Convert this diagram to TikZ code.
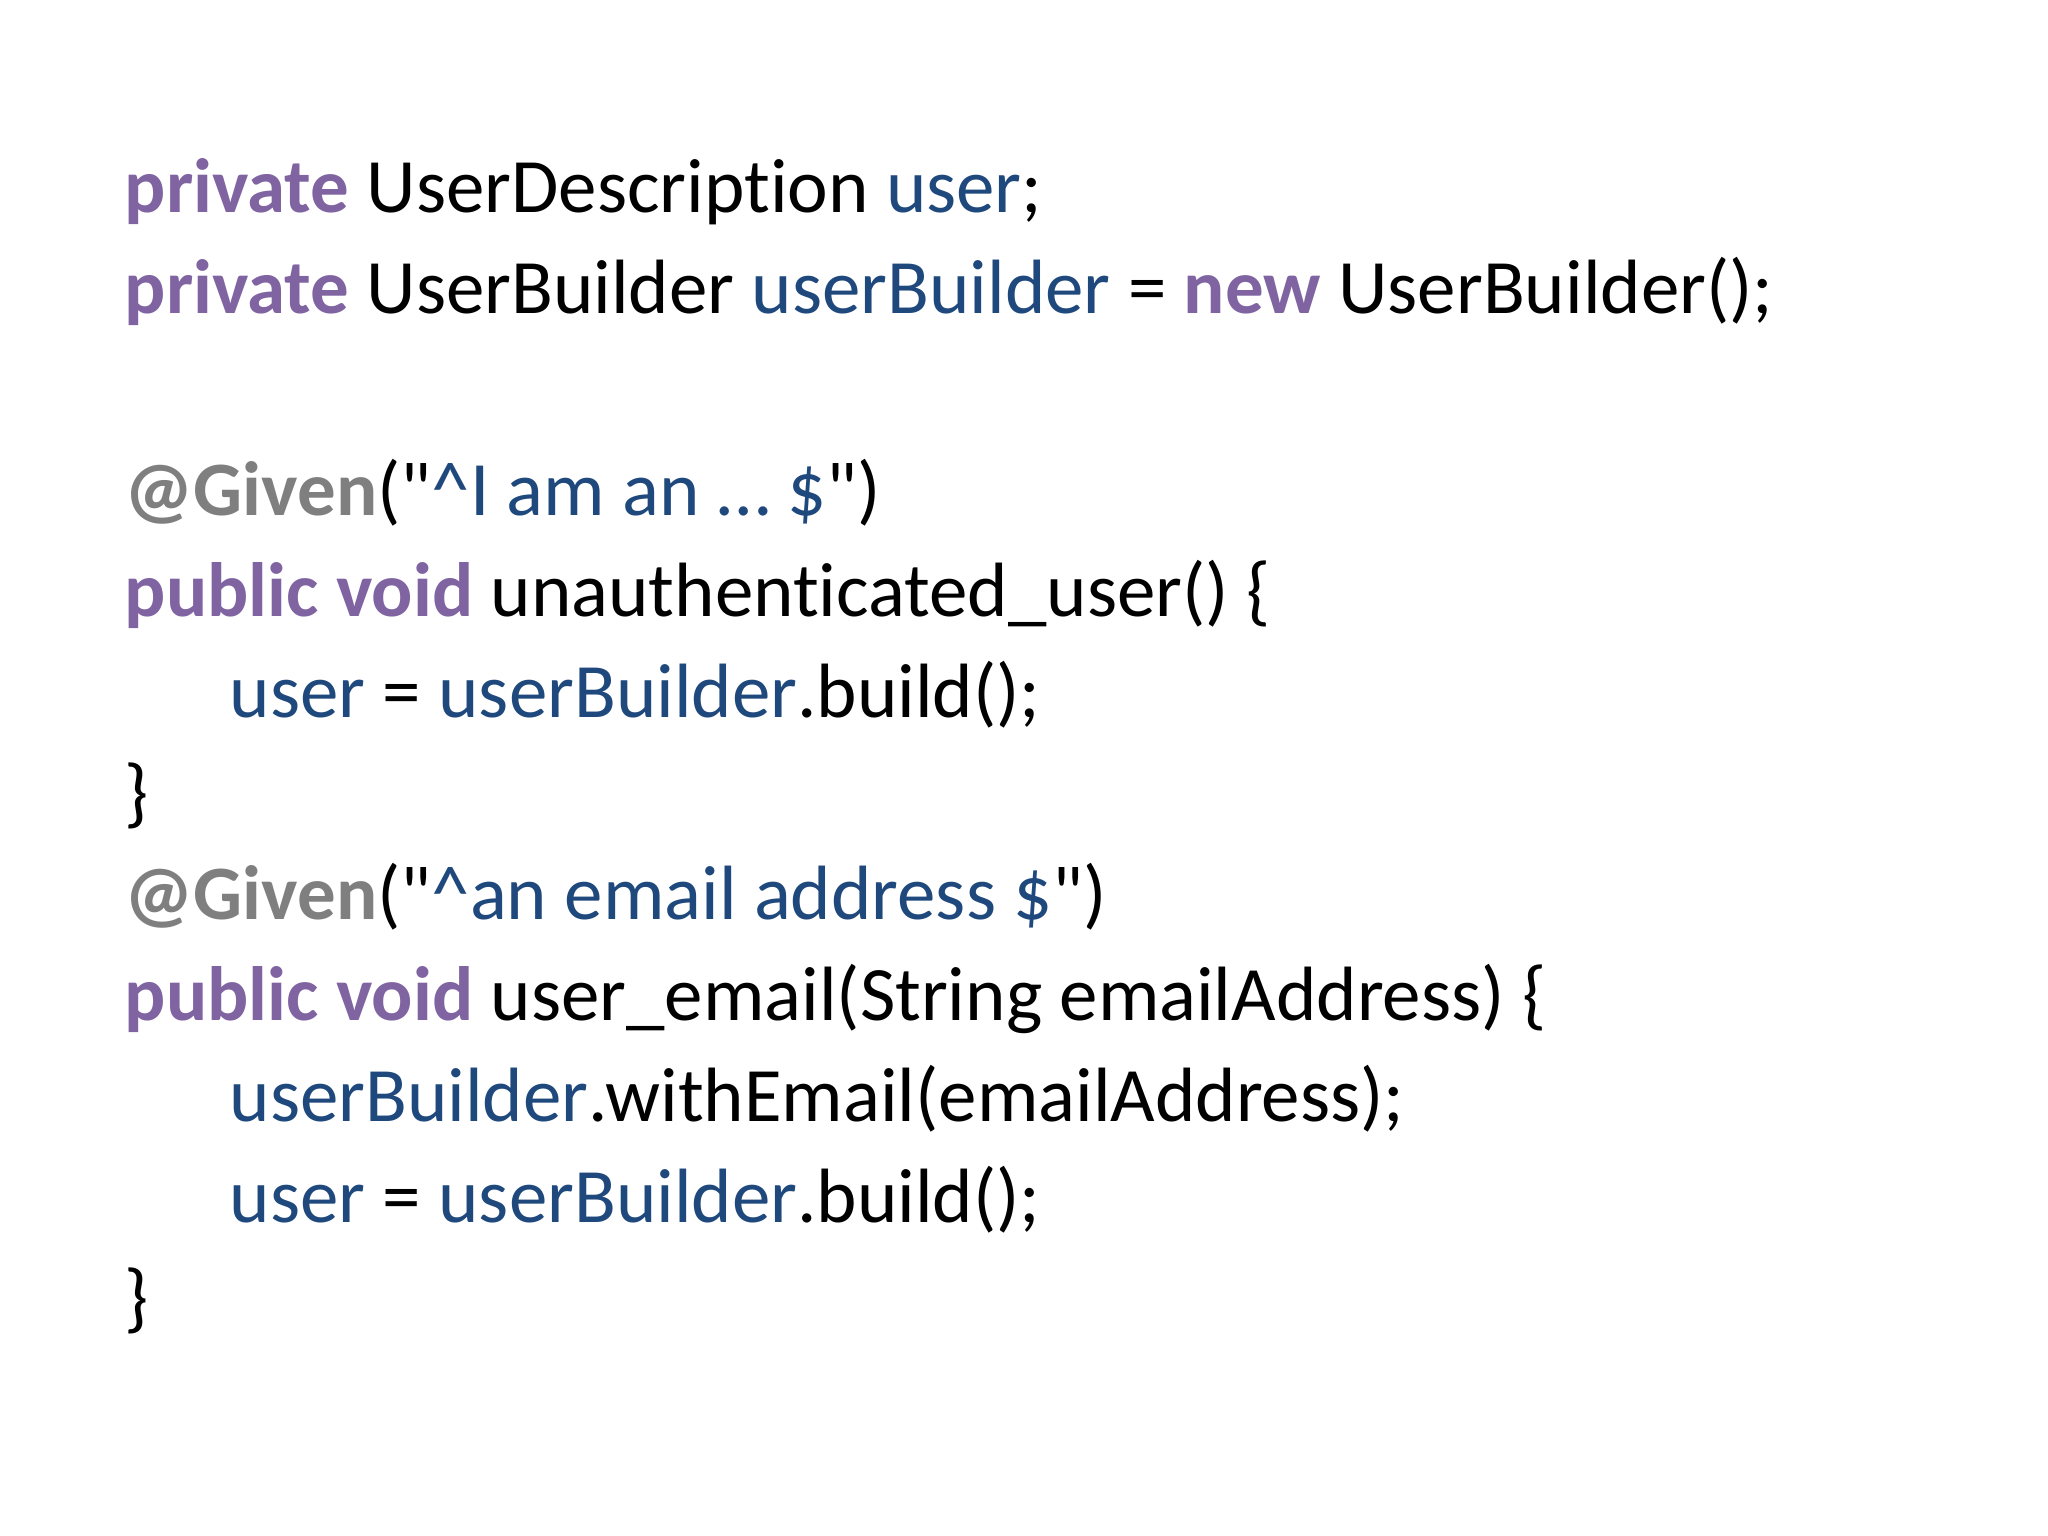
\documentclass[tikz,border=0pt]{standalone}
\usepackage{fontspec}
\setmainfont[Ligatures=NoCommon]{Carlito}
\usepackage{xcolor}
\usetikzlibrary{positioning}
\definecolor{kwpurple}{HTML}{8064A2}
\definecolor{idblue}{HTML}{1F497D}
\definecolor{anngray}{HTML}{7F7F7F}
\newcommand{\kw}[1]{\textcolor{kwpurple}{\bfseries #1}}
\newcommand{\idn}[1]{\textcolor{idblue}{#1}}
\newcommand{\ann}[1]{\textcolor{anngray}{\bfseries #1}}
\begin{document}
\begin{tikzpicture}[codeline/.style={anchor=base west,inner sep=0pt,font=\fontsize{21.9}{26}\selectfont}]
	\useasboundingbox (0,0) rectangle (20.48,15.36);
	\node[codeline] (l1) at (1.24,13.23) {\kw{private} UserDescription \idn{user};};
	\node[codeline] (l2) at (1.24,12.22) {\kw{private} UserBuilder \idn{userBuilder} = \kw{new} UserBuilder();};
	% first step
	\node[codeline] (l3) at (1.24,10.20) {\ann{@Given}(\textquotedbl\idn{\textasciicircum I am an … \$}\textquotedbl)};
	\node[codeline] (l4) at (1.24,9.19) {\kw{public void} unauthenticated\_user() \{};
	\node[codeline] (l5) at (2.29,8.18) {\idn{user} = \idn{userBuilder}.build();};
	\node[codeline] (l6) at (1.24,7.17) {\}};
	% second step
	\node[codeline] (l7) at (1.24,6.16) {\ann{@Given}(\textquotedbl\idn{\textasciicircum an email address \$}\textquotedbl)};
	\node[codeline] (l8) at (1.24,5.15) {\kw{public void} user\_email(String emailAddress) \{};
	\node[codeline] (l9) at (2.29,4.14) {\idn{userBuilder}.withEmail(emailAddress);};
	\node[codeline] (l10) at (2.29,3.13) {\idn{user} = \idn{userBuilder}.build();};
	\node[codeline] (l11) at (1.24,2.12) {\}};
\end{tikzpicture}
\end{document}
